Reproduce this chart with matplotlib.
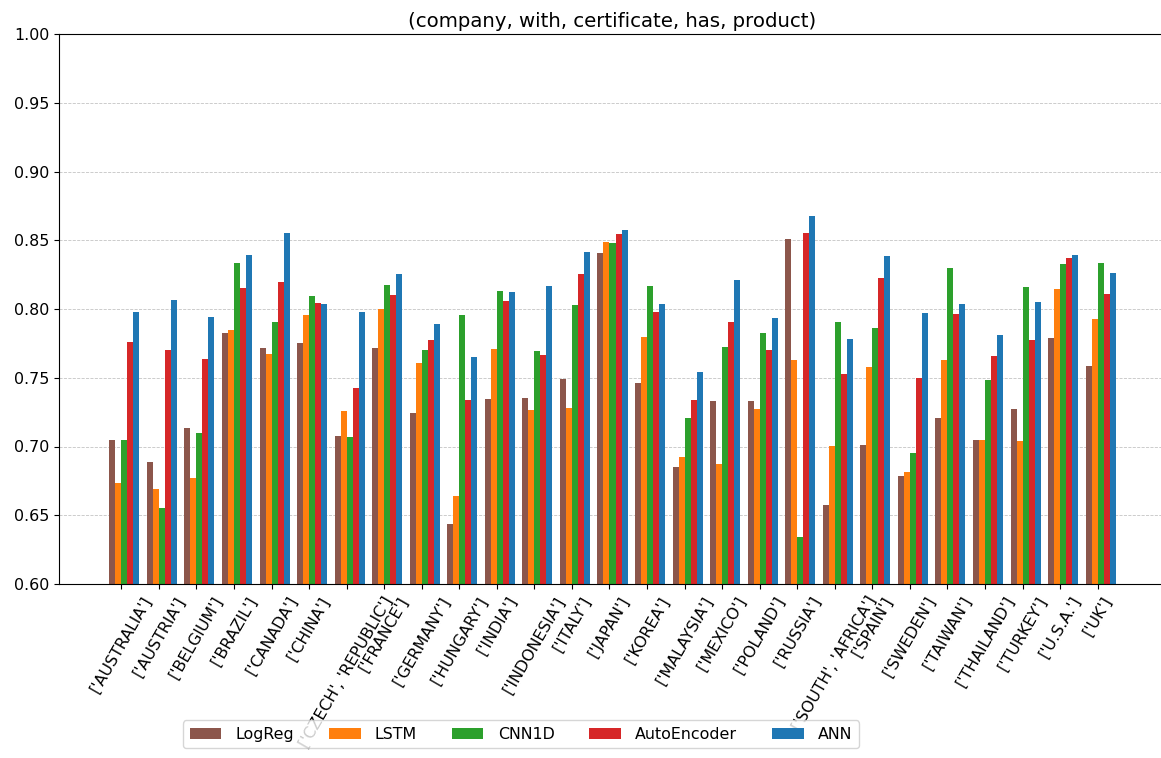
import numpy as np
from matplotlib import pyplot as plt

countries = ["['AUSTRALIA']", "['AUSTRIA']", "['BELGIUM']", "['BRAZIL']", "['CANADA']",
             "['CHINA']", "['CZECH', 'REPUBLIC']", "['FRANCE']", "['GERMANY']", "['HUNGARY']",
             "['INDIA']", "['INDONESIA']", "['ITALY']", "['JAPAN']", "['KOREA']",
             "['MALAYSIA']", "['MEXICO']", "['POLAND']", "['RUSSIA']", "['SOUTH', 'AFRICA']",
             "['SPAIN']", "['SWEDEN']", "['TAIWAN']", "['THAILAND']", "['TURKEY']",
             "['U.S.A.']", "['UK']"]

logreg = [0.7045, 0.6885, 0.7135, 0.7828, 0.7716, 0.7750, 0.7079, 0.7716, 0.7244, 0.6434,
          0.7345, 0.7350, 0.7493, 0.8405, 0.7462, 0.6853, 0.7331, 0.7329, 0.8512, 0.6572,
          0.7013, 0.6783, 0.7210, 0.7050, 0.7271, 0.7789, 0.7588]
lstm = [0.6732, 0.6689, 0.6773, 0.7847, 0.7673, 0.7954, 0.7258, 0.7998, 0.7605, 0.6642,
        0.7709, 0.7268, 0.7278, 0.8490, 0.7796, 0.6926, 0.6875, 0.7271, 0.7632, 0.7004,
        0.7576, 0.6812, 0.7629, 0.7047, 0.7038, 0.8143, 0.7927]
cnn1d = [0.7045, 0.6553, 0.7096, 0.8337, 0.7908, 0.8092, 0.7071, 0.8172, 0.7699, 0.7954,
         0.8131, 0.7692, 0.8031, 0.8480, 0.8170, 0.7210, 0.7726, 0.7823, 0.6339, 0.7908,
         0.7859, 0.6950, 0.8296, 0.7481, 0.8162, 0.8325, 0.8337]
autoenc = [0.7762, 0.7704, 0.7639, 0.8153, 0.8194, 0.8041, 0.7425, 0.8099, 0.7777, 0.7336,
           0.8058, 0.7665, 0.8252, 0.8548, 0.7978, 0.7336, 0.7903, 0.7704, 0.8555, 0.7530,
           0.8228, 0.7496, 0.7961, 0.7656, 0.7775, 0.8371, 0.8107]
ann = [0.7978, 0.8065, 0.7944, 0.8393, 0.8555, 0.8034, 0.7980, 0.8255, 0.7891, 0.7651,
       0.8124, 0.8170, 0.8417, 0.8575, 0.8034, 0.7540, 0.8209, 0.7932, 0.8676, 0.7780,
       0.8385, 0.7973, 0.8034, 0.7813, 0.8053, 0.8393, 0.8264]

models = ["LogReg", "LSTM", "CNN1D", "AutoEncoder", "ANN"]
series = [logreg, lstm, cnn1d, autoenc, ann]
colors = ["tab:brown", "tab:orange", "tab:green", "tab:red", "tab:blue"]

fs = 11.4
fig = plt.figure(figsize=(11.61, 7.58), dpi=100)
ax = fig.add_axes([59 / 1161, 1 - 584 / 758, (1166 - 59) / 1161, 550 / 758])

x = np.arange(len(countries))
w = 0.16
for k, (name, vals, c) in enumerate(zip(models, series, colors)):
    ax.bar(x + (k - 2) * w, vals, w, align='edge', color=c, label=name)

ax.set_ylim(0.6, 1.0)
ax.set_yticks(np.arange(0.6, 1.001, 0.05))
ax.yaxis.set_major_formatter(plt.FormatStrFormatter('%.2f'))
ax.set_xticks(x)
ax.set_xticklabels(countries, rotation=60, ha='center', fontsize=fs)
ax.tick_params(axis='y', labelsize=fs)
ax.grid(axis='y', linestyle='--', color='#c4c4c4', linewidth=0.6)
ax.set_axisbelow(True)
ax.set_title("(company, with, certificate, has, product)", fontsize=14.2, pad=5)

fig.legend(loc='lower center', bbox_to_anchor=(521 / 1161, 10 / 758), ncol=5,
           fontsize=fs, borderaxespad=0, columnspacing=2.2, handletextpad=0.9)

fig.savefig("out.png", dpi=100)
